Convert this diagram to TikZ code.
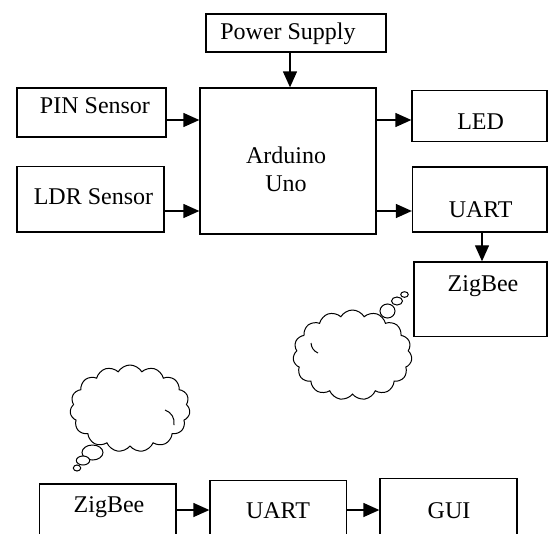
\documentclass[tikz,border=0pt]{standalone}
\usepackage{fontspec}
\setmainfont{Liberation Serif}
\usetikzlibrary{arrows.meta,shapes.symbols}
\begin{document}
\begin{tikzpicture}[x=1pt,y=-1pt,
  box/.style={draw, line width=1.3pt, fill=white, inner sep=0pt, rectangle},
  lbl/.style={anchor=base, inner sep=0pt, font=\fontsize{24}{28}\selectfont},
  conn/.style={line width=1.3pt, -{Triangle[length=16pt,width=14pt]}},
  thought/.style={cloud, draw, line width=1pt, cloud puffs=15, cloud puff arc=120, inner sep=0pt, cloud ignores aspect},
  bubble/.style={draw, line width=1pt, fill=white}]
\useasboundingbox (0,0) rectangle (548,533);
\clip (0,0) rectangle (548,533);
% boxes
\node[box, minimum width=180pt, minimum height=38pt] (pwr) at (296,33) {};
\node[box, minimum width=176pt, minimum height=146pt] (ard) at (288,161) {};
\node[box, minimum width=149pt, minimum height=49pt] (pin) at (91.5,112.5) {};
\node[box, minimum width=147pt, minimum height=65.5pt] (ldr) at (90.5,199.25) {};
\node[box, minimum width=135pt, minimum height=51pt] (led) at (479.5,116) {};
\node[box, minimum width=134.5pt, minimum height=65pt] (uartA) at (479.75,199.5) {};
\node[box, minimum width=133pt, minimum height=74.7pt] (zigA) at (480.5,299.3) {};
\node[box, minimum width=136.5pt, minimum height=76pt] (zigB) at (107.75,522) {};
\node[box, minimum width=136.7pt, minimum height=79.3pt] (uartB) at (278.35,520.35) {};
\node[box, minimum width=137pt, minimum height=81.5pt] (gui) at (448.5,519.25) {};
% labels
\node[lbl] (tpwr) at (288,39.3) {Power Supply};
\node[lbl] (tpin) at (95,113) {PIN Sensor};
\node[lbl] (tldr) at (93.5,204.7) {LDR Sensor};
\node[lbl] (tard1) at (286,163) {Arduino};
\node[lbl] (tard2) at (286,191) {Uno};
\node[lbl] (tled) at (480.6,129.7) {LED};
\node[lbl] (tuartA) at (480.7,217) {UART};
\node[lbl] (tzigA) at (483,291) {ZigBee};
\node[lbl] (tzigB) at (109,512) {ZigBee};
\node[lbl] (tuartB) at (278,518) {UART};
\node[lbl] (tgui) at (449,518) {GUI};
% connector levels
\coordinate (yA) at (0,120);
\coordinate (yB) at (0,211);
\coordinate (yC) at (0,510);
\coordinate (xP) at (290,0);
\coordinate (xU) at (482,0);
\draw[conn] (pwr.south -| xP) -- (ard.north -| xP);
\draw[conn] (pin.east |- yA) -- (ard.west |- yA);
\draw[conn] (ldr.east |- yB) -- (ard.west |- yB);
\draw[conn] (ard.east |- yA) -- (led.west |- yA);
\draw[conn] (ard.east |- yB) -- (uartA.west |- yB);
\draw[conn] (uartA.south -| xU) -- (zigA.north -| xU);
\draw[conn] (zigB.east |- yC) -- (uartB.west |- yC);
\draw[conn] (uartB.east |- yC) -- (gui.west |- yC);
% thought clouds
\node[thought, minimum width=119pt, minimum height=90pt] (cloudA) at (352.5,355) {};
\draw[line width=1pt] (311,343) to[bend right=30] (318,353);
\draw[bubble] (387.5,311) ellipse [x radius=7.5pt, y radius=7pt];
\draw[bubble] (397,301) ellipse [x radius=5.5pt, y radius=4pt];
\draw[bubble] (404.5,294.5) ellipse [x radius=3.8pt, y radius=2.8pt];
\node[thought, minimum width=120pt, minimum height=87pt] (cloudB) at (130,408.5) {};
\draw[line width=1pt] (165,410) to[bend left=40] (174,425);
\draw[bubble] (92.5,452.5) ellipse [x radius=10.5pt, y radius=7.5pt];
\draw[bubble] (83,460.5) ellipse [x radius=6.7pt, y radius=4.5pt];
\draw[bubble] (77,468) ellipse [x radius=3.7pt, y radius=3pt];
\end{tikzpicture}
\end{document}
